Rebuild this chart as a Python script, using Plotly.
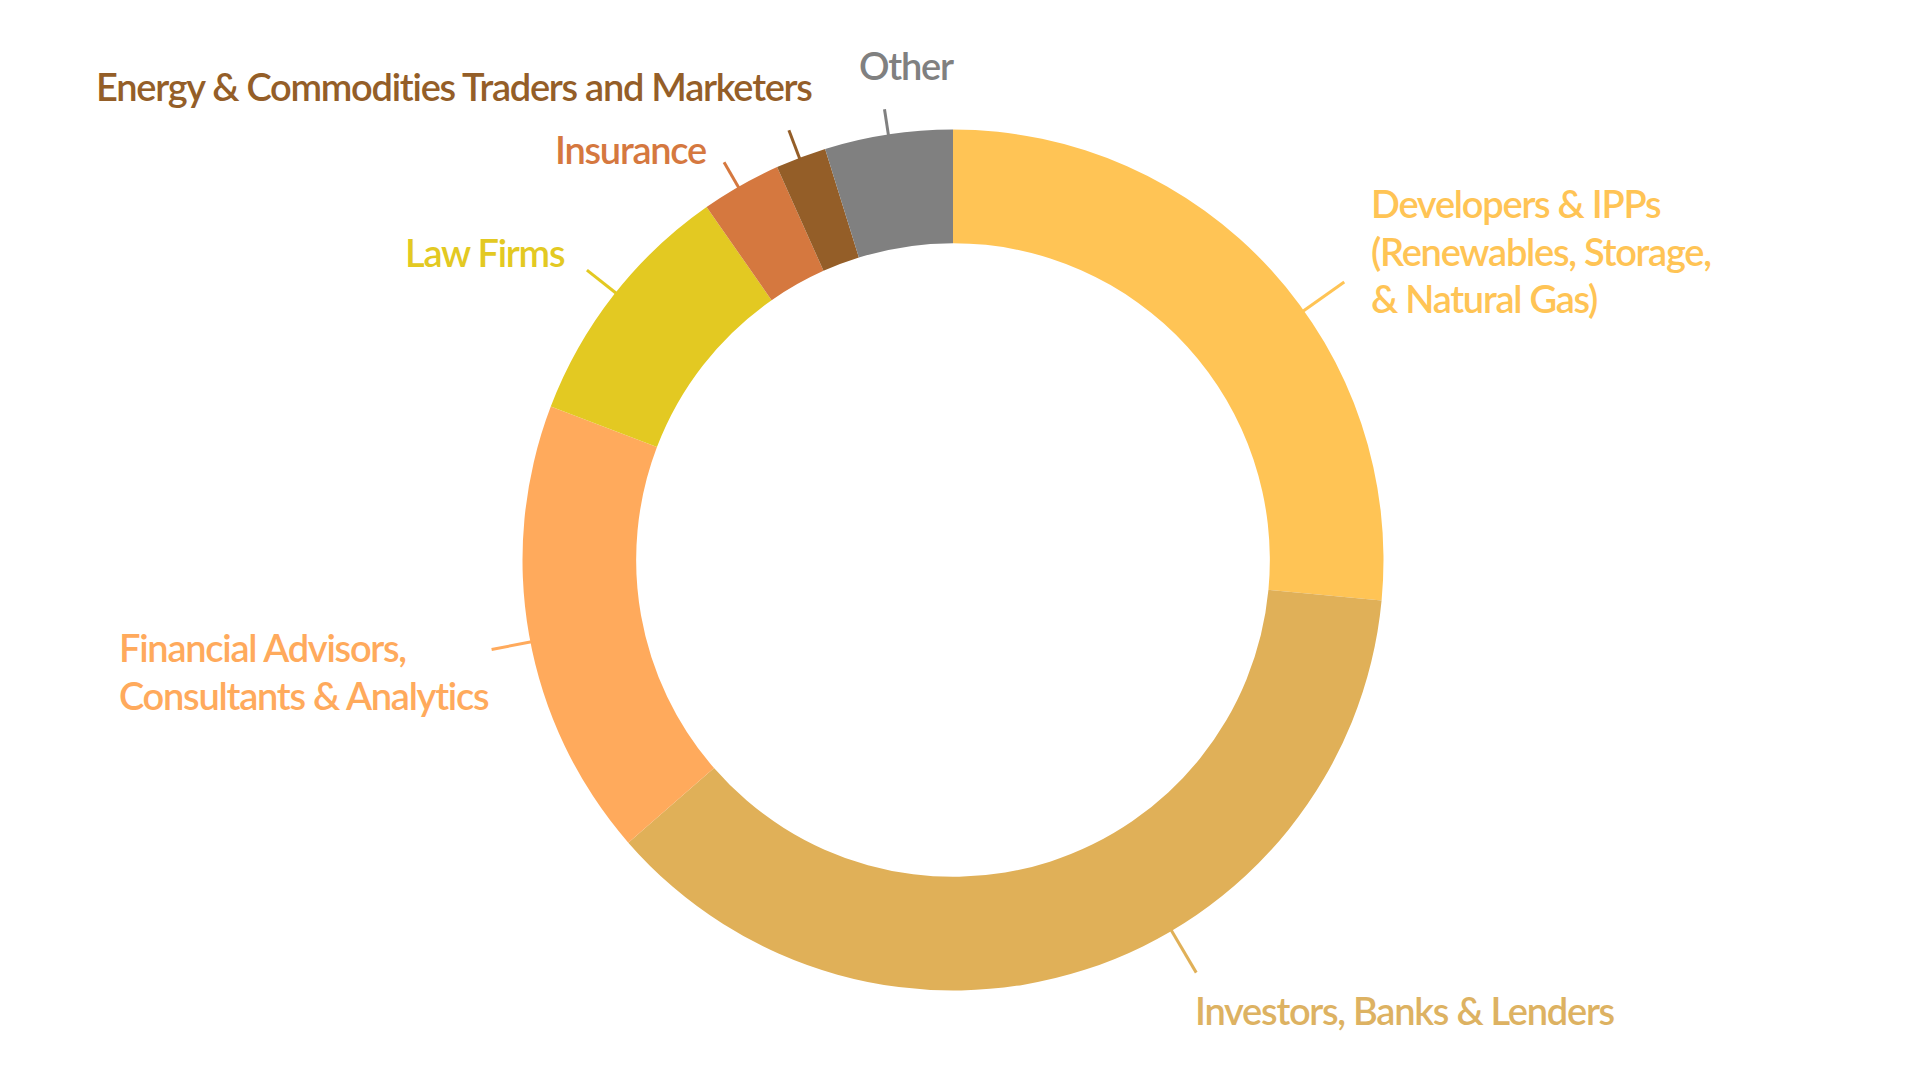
import math
import plotly.graph_objects as go

# ---------------- data ----------------
categories = [
    "Developers & IPPs<br>(Renewables, Storage,<br>& Natural Gas)",
    "Investors, Banks & Lenders",
    "Financial Advisors,<br>Consultants & Analytics",
    "Law Firms",
    "Insurance",
    "Energy & Commodities Traders and Marketers",
    "Other",
]
shares = [26.5, 37.1, 17.2, 9.5, 3.0, 1.9, 4.8]

# ---------------- style ----------------
slice_colors = ["#FFC455", "#E0B058", "#FFAA5C", "#E3C922", "#D5783F", "#945E28", "#808080"]
label_colors = ["#FFC455", "#DDB262", "#FFAA5C", "#E3C922", "#D5783F", "#945E28", "#808080"]

W, H = 1920, 1080
CX, CY = 953, 560          # pie centre in pixels
R_OUT = 430.5
HOLE = 0.736
FONT = "Lato, 'Open Sans', sans-serif"
FSIZE = 38
LINE_GAP = 47.5
LETTER_SPACING = "-1.25px"

# label placement: (x px, y px of first line cap-centre, xanchor)
label_pos = [
    (1369, 203, "left"),
    (1405, 1010, "center"),
    (117, 647, "left"),
    (485, 252, "center"),
    (630, 149, "center"),
    (454, 86, "center"),
    (906, 65, "center"),
]
# leader lines: angle offset from slice middle (deg), start radius, end radius
leader = [
    (6.9, 428, 480),
    (-12.7, 428, 479),
    (-0.9, 428, 470),
    (0.4, 428, 467),
    (-0.4, 428, 459),
    (-0.2, 428, 460),
    (0.0, 428, 456),
]

def px(x):
    return x / W

def py(y):
    return 1 - y / H

fig = go.Figure(
    go.Pie(
        labels=[c.replace("<br>", " ") for c in categories],
        values=shares,
        hole=HOLE,
        sort=False,
        direction="clockwise",
        rotation=0,
        textinfo="none",
        hoverinfo="label+percent",
        marker=dict(colors=slice_colors, line=dict(width=0)),
        domain=dict(
            x=[px(CX - R_OUT), px(CX + R_OUT)],
            y=[py(CY + R_OUT), py(CY - R_OUT)],
        ),
        showlegend=False,
    )
)

total = sum(shares)
cum = 0.0
shapes = []
annotations = []
for i, (cat, v) in enumerate(zip(categories, shares)):
    mid = (cum + v / 2) / total * 360.0
    cum += v
    off, r0, r1 = leader[i]
    a = math.radians(mid + off)
    x0, y0 = CX + r0 * math.sin(a), CY - r0 * math.cos(a)
    x1, y1 = CX + r1 * math.sin(a), CY - r1 * math.cos(a)
    shapes.append(dict(
        type="line", xref="paper", yref="paper",
        x0=px(x0), y0=py(y0), x1=px(x1), y1=py(y1),
        line=dict(color=slice_colors[i], width=3),
    ))
    lx, ly, anchor = label_pos[i]
    for j, line in enumerate(cat.split("<br>")):
        annotations.append(dict(
            text=f"<span style=\"letter-spacing:{LETTER_SPACING}\">{line}</span>",
            xref="paper", yref="paper",
            x=px(lx), y=py(ly + j * LINE_GAP),
            xanchor=anchor, yanchor="middle", showarrow=False,
            font=dict(family=FONT, size=FSIZE, color=label_colors[i], weight=600),
        ))

fig.update_layout(
    width=W, height=H,
    margin=dict(l=0, r=0, t=0, b=0),
    paper_bgcolor="white",
    plot_bgcolor="white",
    shapes=shapes,
    annotations=annotations,
)

fig.write_html(
    "out.html",
    config={"displayModeBar": False},
    post_script="document.body.style.margin='0';",
)
